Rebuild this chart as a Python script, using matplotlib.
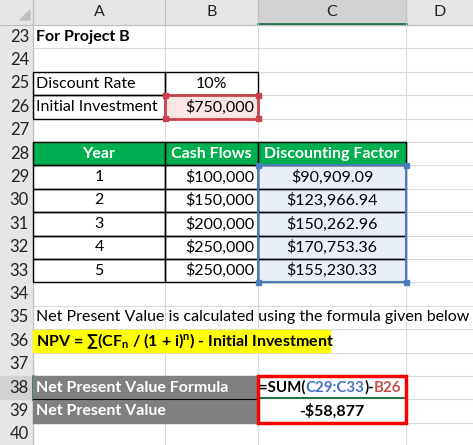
import matplotlib
matplotlib.use("Agg")
import matplotlib.pyplot as plt
from matplotlib.patches import Rectangle

plt.rcParams['font.family'] = ['Lato', 'DejaVu Sans']
plt.rcParams['mathtext.fontset'] = 'custom'
plt.rcParams['mathtext.rm'] = 'Lato:bold'
plt.rcParams['mathtext.it'] = 'Lato:bold'
plt.rcParams['mathtext.bf'] = 'Lato:bold'

title = "For Project B"
discount_rate = "10%"
initial_investment = "$750,000"
headers = ["Year", "Cash Flows", "Discounting Factor"]
years = [1, 2, 3, 4, 5]
cash_flows = ["$100,000", "$150,000", "$200,000", "$250,000", "$250,000"]
disc_factors = ["$90,909.09", "$123,966.94", "$150,262.96", "$170,753.36", "$155,230.33"]
note = "Net Present Value is calculated using the formula given below"
npv_formula_text = r"NPV = ∑(CF$_{\mathbf{n}}$ / (1 + i)$^{\mathbf{n}}$) - Initial Investment"
npv_value = "-$58,877"

W, H = 473, 445
fig = plt.figure(figsize=(W/100, H/100), dpi=100)
ax = fig.add_axes([0, 0, 1, 1])
ax.set_xlim(0, W); ax.set_ylim(H, 0); ax.axis('off')

cols = [0, 33, 165, 258, 406, 473]
top, rh = 25, 23.4
def ry(r): return top + (r-23)*rh
FS = 11.5
GRID = '#D9D9D9'

for r in range(23, 41):
    ax.plot([33, W], [ry(r), ry(r)], color=GRID, lw=0.8)
for x in cols[1:5]:
    ax.plot([x, x], [0, H], color=GRID, lw=0.8)
ax.add_patch(Rectangle((0, 0), W, top, color='#E6E6E6'))
ax.add_patch(Rectangle((258, 0), 148, top, color='#D2D2D2'))
ax.plot([258, 406], [top-1, top-1], color='#217346', lw=2)
ax.add_patch(Rectangle((0, top), 33, H, color='#E6E6E6'))
ax.add_patch(Rectangle((0, ry(38)), 33, rh, color='#D2D2D2'))
ax.plot([33, 33], [ry(38), ry(39)], color='#217346', lw=2)
for x in cols[1:5]:
    ax.plot([x, x], [0, top], color='#BFBFBF', lw=0.8)
ax.plot([33, 33], [0, H], color='#BFBFBF', lw=0.8)
ax.plot([0, W], [top, top], color='#BFBFBF', lw=0.8)
ax.fill([20, 30, 30], [20, 10, 20], color='#BFBFBF')
for i, L in enumerate("ABCD"):
    ax.text((cols[i+1]+cols[i+2])/2, top/2, L, ha='center', va='center', fontsize=FS, color='#222')
for r in range(23, 41):
    ax.text(29, ry(r)+rh/2, str(r), ha='right', va='center', fontsize=FS+0.5, color='#222')

def cell(text, x0, x1, r, ha='left', **kw):
    xx = {'left': x0+3, 'center': (x0+x1)/2, 'right': x1-4}[ha]
    kw.setdefault('fontsize', FS)
    ax.text(xx, ry(r)+rh/2, text, ha=ha, va='center', **kw)

def box(x0, x1, r0, r1, fc=None, ec='black', lw=1):
    ax.add_patch(Rectangle((x0, ry(r0)), x1-x0, ry(r1)-ry(r0), fc=fc if fc else 'none', ec=ec, lw=lw, zorder=3))

cell(title, 33, 165, 23, fontweight='bold')
box(33, 165, 25, 26); box(165, 258, 25, 26); box(33, 165, 26, 27)
ax.add_patch(Rectangle((165, ry(26)), 93, rh, fc='#FBE5E6', ec='#C8414B', lw=2, zorder=3))
for px in (165, 258):
    for py in (ry(26), ry(27)):
        ax.add_patch(Rectangle((px-2.5, py-2.5), 5, 5, color='#C8414B', zorder=4))
cell("Discount Rate", 33, 165, 25)
cell(discount_rate, 165, 258, 25, ha='center')
cell("Initial Investment", 33, 165, 26)
cell(initial_investment, 165, 258, 26, ha='right', zorder=5)

ax.add_patch(Rectangle((33, ry(28)), 373, rh, color='#00B050', zorder=2))
for i, h in enumerate(headers):
    box(cols[i+1], cols[i+2], 28, 29)
    cell(h, cols[i+1], cols[i+2], 28, ha='center', color='white', fontweight='bold', zorder=5)
ax.add_patch(Rectangle((258, ry(29)), 148, 5*rh, fc='#E9EFF9', ec='none', zorder=2))
for k in range(5):
    r = 29 + k
    for i in range(3):
        box(cols[i+1], cols[i+2], r, r+1)
    cell(str(years[k]), 33, 165, r, ha='center', zorder=5)
    cell(cash_flows[k], 165, 258, r, ha='right', zorder=5)
    cell(disc_factors[k], 258, 406, r, ha='center', zorder=5)
ax.add_patch(Rectangle((258, ry(29)), 148, 5*rh, fc='none', ec='#4A7EBB', lw=1.5, zorder=4))
for px, py in [(258, ry(29)), (406, ry(29)), (258, ry(34)), (406, ry(34))]:
    ax.add_patch(Rectangle((px-2.5, py-2.5), 5, 5, color='#4A7EBB', zorder=5))

cell(note, 33, 473, 35)
ax.add_patch(Rectangle((33, ry(36)+1), 297, rh-2, color='#FFFF00', zorder=2))
cell(npv_formula_text, 33, 330, 36, fontweight='bold', zorder=5)

ax.add_patch(Rectangle((33, ry(38)), 225, 2*rh, color='#808080', zorder=2))
ax.plot([33, 258], [ry(39), ry(39)], color='black', lw=0.8, zorder=3)
cell("Net Present Value Formula", 33, 258, 38, color='white', fontweight='bold', zorder=5)
cell("Net Present Value", 33, 258, 39, color='white', fontweight='bold', zorder=5)
ax.add_patch(Rectangle((258, ry(38)), 148, 2*rh, fc='white', ec='none', zorder=2))
ax.plot([258, 404], [ry(39)-1, ry(39)-1], color='#217346', lw=1.5, zorder=4)
ax.add_patch(Rectangle((258, ry(38)), 148, 2*rh, fc='none', ec='#FF0000', lw=2.5, zorder=6))
cell(npv_value, 258, 406, 39, ha='center', fontweight='bold', zorder=7)

parts = [("=SUM(", 'black'), ("C29:C33", '#4472C4'), (")-", 'black'), ("B26", '#C0504D')]
rend = fig.canvas.get_renderer()
x = 259
inv = ax.transData.inverted()
for s, c in parts:
    t = ax.text(x, ry(38)+rh/2, s, ha='left', va='center', fontsize=10.8, fontweight='bold', color=c, zorder=7)
    bb = t.get_window_extent(rend)
    x = inv.transform((bb.x1, bb.y0))[0]

fig.savefig("out.png", dpi=100)
